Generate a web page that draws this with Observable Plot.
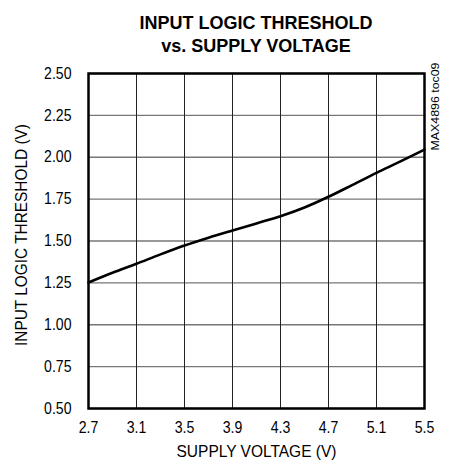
<!DOCTYPE html>
<html>
<head>
<meta charset="utf-8">
<script src="https://cdn.jsdelivr.net/npm/d3@7"></script>
<script src="https://cdn.jsdelivr.net/npm/@observablehq/plot@0.6"></script>
<style>
  body { margin: 0; background: #fff; }
  #title { width: 449px; height: 58px; box-sizing: border-box; padding: 12px 0 0 63px; text-align: center;
    font-family: "Liberation Sans", Arial, sans-serif; font-weight: bold; font-size: 18px; line-height: 23px; color: #000; }
  svg { display: block; }
</style>
</head>
<body>
<div id="title">INPUT LOGIC THRESHOLD<br>vs. SUPPLY VOLTAGE</div>
<div id="chart"></div>
<script>
const supplyVoltage = [2.7, 2.9, 3.1, 3.3, 3.5, 3.7, 3.9, 4.1, 4.3, 4.5, 4.7, 4.9, 5.1, 5.3, 5.5];
const threshold = [1.252, 1.31, 1.364, 1.42, 1.473, 1.52, 1.563, 1.605, 1.648, 1.70, 1.764, 1.835, 1.907, 1.975, 2.046];
const xTicks = [2.7, 3.1, 3.5, 3.9, 4.3, 4.7, 5.1, 5.5];
const yTicks = [0.5, 0.75, 1.0, 1.25, 1.5, 1.75, 2.0, 2.25, 2.5];
const xLabel = "SUPPLY VOLTAGE (V)";
const yLabel = "INPUT LOGIC THRESHOLD (V)";
const tag = "MAX4896 toc09";

const data = supplyVoltage.map((v, i) => ({v, t: threshold[i]}));
const font = '"Liberation Sans", Arial, sans-serif';

const chart = Plot.plot({
  width: 449,
  height: 412,
  marginTop: 15,
  marginBottom: 62,
  marginLeft: 88,
  marginRight: 25,
  style: {fontFamily: font, fontSize: "16px", color: "#000", background: "#fff"},
  x: {domain: [2.7, 5.5]},
  y: {domain: [0.5, 2.5]},
  marks: [
    Plot.ruleY(yTicks, {stroke: "#777", strokeWidth: 1.3}),
    Plot.ruleX(xTicks, {stroke: "#222", strokeWidth: 1}),
    Plot.axisX({ticks: xTicks, tickSize: 0, tickPadding: 13, tickFormat: d3.format(".1f"), label: null, fontSize: 16}),
    Plot.axisY({ticks: yTicks, tickSize: 0, tickPadding: 17, tickFormat: d3.format(".2f"), label: null, fontSize: 16}),
    Plot.line(data, {x: "v", y: "t", stroke: "#000", strokeWidth: 2.6, curve: "monotone-x"}),
    Plot.frame({stroke: "#000", strokeWidth: 2.5}),
    Plot.text([xLabel], {frameAnchor: "bottom", dy: 48, fontSize: 16}),
    Plot.text([yLabel], {frameAnchor: "left", dx: -67, dy: -6, rotate: -90, textAnchor: "middle", fontSize: 16}),
    Plot.text([tag], {frameAnchor: "top-right", dx: 7, dy: -11, rotate: -90, textAnchor: "end", fontSize: 11})
  ]
});
document.getElementById("chart").appendChild(chart);

// condense texts to mimic the narrow typeface of the reference
chart.querySelectorAll("text").forEach(el => {
  const s = el.textContent;
  const len = el.getComputedTextLength();
  let target;
  if (s === tag) target = 88;
  else if (s === xLabel) target = 160;
  else if (s === yLabel) target = 222;
  else target = len * 0.88;
  el.setAttribute("textLength", target);
  el.setAttribute("lengthAdjust", "spacingAndGlyphs");
});
</script>
</body>
</html>
